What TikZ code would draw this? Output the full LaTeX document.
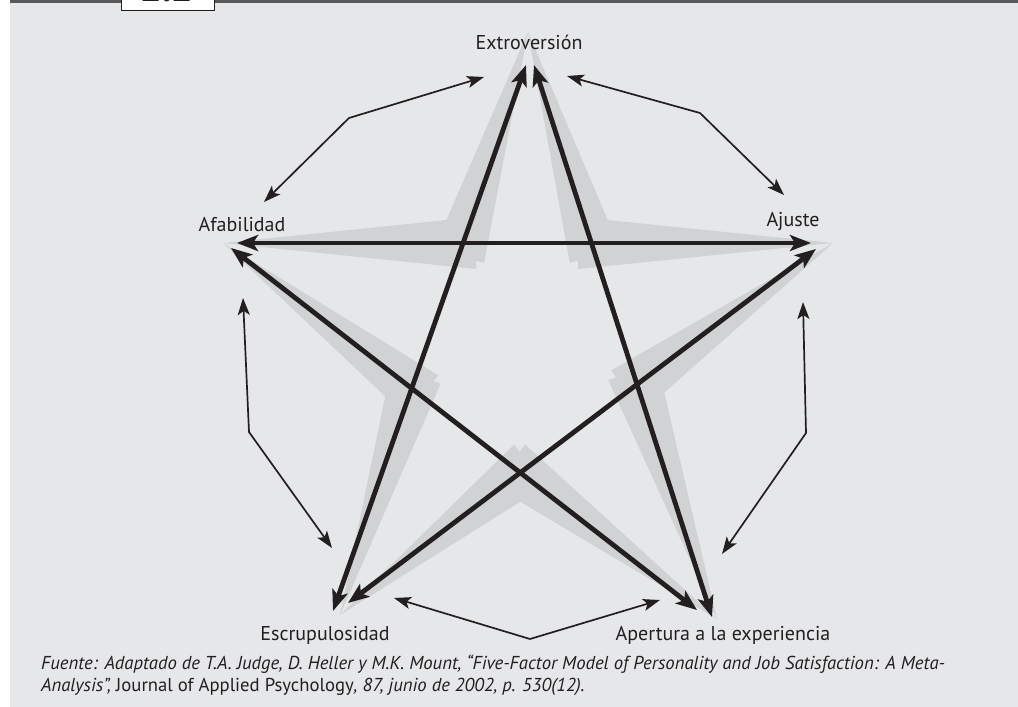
\documentclass[tikz,border=0pt]{standalone}
\usepackage{fontspec}
\setmainfont{PT Sans}
\usetikzlibrary{arrows.meta,calc}
\definecolor{bg}{HTML}{E6E7E9}
\definecolor{shd}{HTML}{D1D2D4}
\definecolor{ink}{HTML}{231F20}
\definecolor{barc}{HTML}{58595B}
\tikzset{
  lbl/.style={anchor=base, inner sep=0pt, text=ink, font=\fontsize{20}{23}\selectfont},
  note/.style={anchor=base west, inner sep=0pt, text=ink, font=\fontsize{18.7}{22}\selectfont},
  thickarrow/.style={draw=ink, line width=4.8pt,
    {Stealth[length=21pt,width=16pt,inset=5pt]}-{Stealth[length=21pt,width=16pt,inset=5pt]}},
  thinarrow/.style={draw=ink, line width=1.7pt,
    {Stealth[length=17pt,width=12pt,inset=4pt]}-{Stealth[length=17pt,width=12pt,inset=4pt]}},
  shadow/.style={fill=shd}
}
\begin{document}
\begin{tikzpicture}[x=1pt,y=-1pt]
\useasboundingbox (0,0) rectangle (1018,707);
\fill[white] (0,0) rectangle (1018,707);
\fill[bg] (10,0) rectangle (1018,707);
\fill[barc] (10,0) rectangle (1018,3);
% figure number box (cut at the top)
\draw[ink, line width=1pt, fill=white] (121,-6) rectangle (214,10.5);
\node[anchor=base, inner sep=0pt, text=ink, font=\bfseries\fontsize{38}{38}\selectfont] (fignum) at (167,1.6) {2.2};

% shadow tips and inner vertices
\coordinate (sT) at (528,32);
\coordinate (sA) at (223,243);
\coordinate (sJ) at (833,243);
\coordinate (sE) at (340,615);
\coordinate (sP) at (717,619);
\coordinate (vTL) at (463,243);
\coordinate (vTR) at (591,243);
\coordinate (vL) at (412,388);
\coordinate (vR) at (637,384);
\coordinate (vB) at (520,473);
\foreach \s/\v in {sT/vTL, sT/vTR, sA/vTL, sA/vL, sE/vL, sE/vB, sP/vB, sP/vR, sJ/vR, sJ/vTR}{
  \coordinate (B) at ($(\v)!-13pt!(\s)$);
  \fill[shadow] (\s) -- ($(B)!26pt!90:(\s)$) -- ($(B)!26pt!-90:(\s)$) -- cycle;
}

% arrow tips of the star
\coordinate (tA1) at (237,243);
\coordinate (tJ1) at (811,243);
\coordinate (tA2) at (231,248);
\coordinate (tP1) at (697,610);
\coordinate (tT1) at (526,65);
\coordinate (tE1) at (333,611);
\coordinate (tT2) at (534,65);
\coordinate (tP2) at (712,617);
\coordinate (tJ2) at (816,249);
\coordinate (tE2) at (348,603);

\draw[thickarrow] (tA1) -- (tJ1);
\draw[thickarrow] (tA2) -- (tP1);
\draw[thickarrow] (tT1) -- (tE1);
\draw[thickarrow] (tT2) -- (tP2);
\draw[thickarrow] (tJ2) -- (tE2);

% outer thin arrows
\coordinate (o1a) at (484,77);  \coordinate (o1b) at (349,118); \coordinate (o1c) at (264,202);
\coordinate (o2a) at (567,76);  \coordinate (o2b) at (700,113); \coordinate (o2c) at (784,195);
\coordinate (o3a) at (243,298); \coordinate (o3b) at (249,432); \coordinate (o3c) at (332,548);
\coordinate (o4a) at (803,302); \coordinate (o4b) at (806,433); \coordinate (o4c) at (722,554);
\coordinate (o5a) at (394,598); \coordinate (o5b) at (530,639); \coordinate (o5c) at (660,600);
\draw[thinarrow] (o1a) -- (o1b) -- (o1c);
\draw[thinarrow] (o2a) -- (o2b) -- (o2c);
\draw[thinarrow] (o3a) -- (o3b) -- (o3c);
\draw[thinarrow] (o4a) -- (o4b) -- (o4c);
\draw[thinarrow] (o5a) -- (o5b) -- (o5c);

% labels
\node[lbl] (ext) at (529,49) {Extroversión};
\node[lbl] (afa) at (242,231) {Afabilidad};
\node[lbl] (aju) at (793,226) {Ajuste};
\node[lbl] (esc) at (325,640) {Escrupulosidad};
\node[lbl] (ape) at (723,640) {Apertura a la experiencia};

% source
\node[note] (src1) at (41,669) {\itshape Fuente: Adaptado de T.A. Judge, D. Heller y M.K. Mount, “Five-Factor Model of Personality and Job Satisfaction: A Meta-};
\node[note] (src2) at (41,691) {\itshape Analysis”, \upshape Journal of Applied Psychology\itshape, 87, junio de 2002, p. 530(12).};
\end{tikzpicture}
\end{document}
